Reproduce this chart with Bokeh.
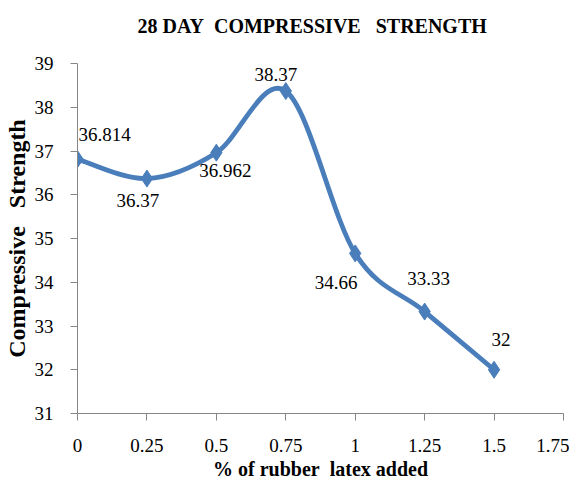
from bokeh.plotting import figure
from bokeh.models import ColumnDataSource, FixedTicker, Range1d, Title
from bokeh.core.properties import value
from bokeh.embed import file_html
from bokeh.resources import INLINE

# ---- data ----
latex_pct = [0, 0.25, 0.5, 0.75, 1.0, 1.25, 1.5]
strength = [36.814, 36.37, 36.962, 38.37, 34.66, 33.33, 32]
strength_labels = ["36.814", "36.37", "36.962", "38.37", "34.66", "33.33", "32"]
x_ticks = [0, 0.25, 0.5, 0.75, 1.0, 1.25, 1.5, 1.75]
x_tick_labels = ["0", "0.25", "0.5", "0.75", "1", "1.25", "1.5", "1.75"]
y_ticks = [31, 32, 33, 34, 35, 36, 37, 38, 39]
title_text = "28\u00a0DAY\u00a0\u00a0COMPRESSIVE\u00a0\u00a0\u00a0STRENGTH"
x_title = "%\u00a0of\u00a0rubber\u00a0\u00a0latex\u00a0added"
y_title = "Compressive\u00a0\u00a0\u00a0Strength"

# ---- styles (label offsets in screen px) ----
label_dx = [27, -9, 9, -10, -19, 4, 7]
label_dy = [-25, 22, 18, -17, 29, -33, -30]

SERIF = "Liberation Serif"
BLUE = "#4a7ebb"
GREY = "#868686"

# smooth (Excel-like) bezier segments from the data points
n = len(latex_pct)
seg = dict(x0=[], y0=[], x1=[], y1=[], cx0=[], cy0=[], cx1=[], cy1=[])
for i in range(n - 1):
    p0 = (latex_pct[max(i - 1, 0)], strength[max(i - 1, 0)])
    p1 = (latex_pct[i], strength[i])
    p2 = (latex_pct[i + 1], strength[i + 1])
    p3 = (latex_pct[min(i + 2, n - 1)], strength[min(i + 2, n - 1)])
    seg["x0"].append(p1[0]); seg["y0"].append(p1[1])
    seg["x1"].append(p2[0]); seg["y1"].append(p2[1])
    seg["cx0"].append(p1[0] + (p2[0] - p0[0]) / 6)
    seg["cy0"].append(p1[1] + (p2[1] - p0[1]) / 6)
    seg["cx1"].append(p2[0] - (p3[0] - p1[0]) / 6)
    seg["cy1"].append(p2[1] - (p3[1] - p1[1]) / 6)

p = figure(width=569, height=485, output_backend="svg", toolbar_location=None,
           x_range=Range1d(0, 1.75), y_range=Range1d(31, 39),
           min_border_left=75, min_border_right=6, min_border_top=63, min_border_bottom=72)
p.outline_line_color = None
p.xgrid.visible = False
p.ygrid.visible = False
p.background_fill_color = "white"
p.border_fill_color = "white"
p.title.text = ""

# spacer panel next to the frame, then the real title above it
p.add_layout(Title(text="\u00a0", text_font_size="10px", standoff=1), "above")
p.add_layout(Title(text=title_text, text_font=SERIF, text_font_size="20px",
                   text_font_style="bold", align="left", offset=60,
                   vertical_align="top", standoff=22, text_color="black"), "above")

p.bezier(x0="x0", y0="y0", x1="x1", y1="y1", cx0="cx0", cy0="cy0", cx1="cx1", cy1="cy1",
         source=ColumnDataSource(seg), line_color=BLUE, line_width=4.8)

src = ColumnDataSource(dict(x=latex_pct, y=strength, t=strength_labels, dx=label_dx, dy=label_dy))
p.scatter("x", "y", source=src, marker="diamond", size=17, fill_color=BLUE, line_color=BLUE)
p.text("x", "y", text="t", source=src, x_offset="dx", y_offset="dy",
       text_align="center", text_baseline="middle",
       text_font=value(SERIF), text_font_size="19px", text_color="black")

for ax in (p.xaxis[0], p.yaxis[0]):
    ax.axis_line_color = GREY
    ax.major_tick_line_color = GREY
    ax.major_tick_in = 0
    ax.major_tick_out = 7
    ax.minor_tick_line_color = None
    ax.major_label_text_font = SERIF
    ax.major_label_text_font_size = "19px"
    ax.major_label_text_color = "black"
    ax.axis_label_text_font = SERIF
    ax.axis_label_text_font_style = "bold"
    ax.axis_label_text_font_size = "20px"
    ax.axis_label_text_color = "black"

p.xaxis.ticker = FixedTicker(ticks=x_ticks)
p.xaxis.major_label_overrides = {t: l for t, l in zip(x_ticks, x_tick_labels)}
p.xaxis.major_label_standoff = 18
p.xaxis.axis_label = x_title
p.xaxis.axis_label_standoff = 3

p.yaxis.ticker = FixedTicker(ticks=y_ticks)
p.yaxis.major_label_standoff = 17
p.yaxis.axis_label = y_title
p.yaxis.axis_label_text_font_size = "24px"
p.yaxis.axis_label_standoff = 2

open("out.html", "w").write(file_html(p, INLINE))
